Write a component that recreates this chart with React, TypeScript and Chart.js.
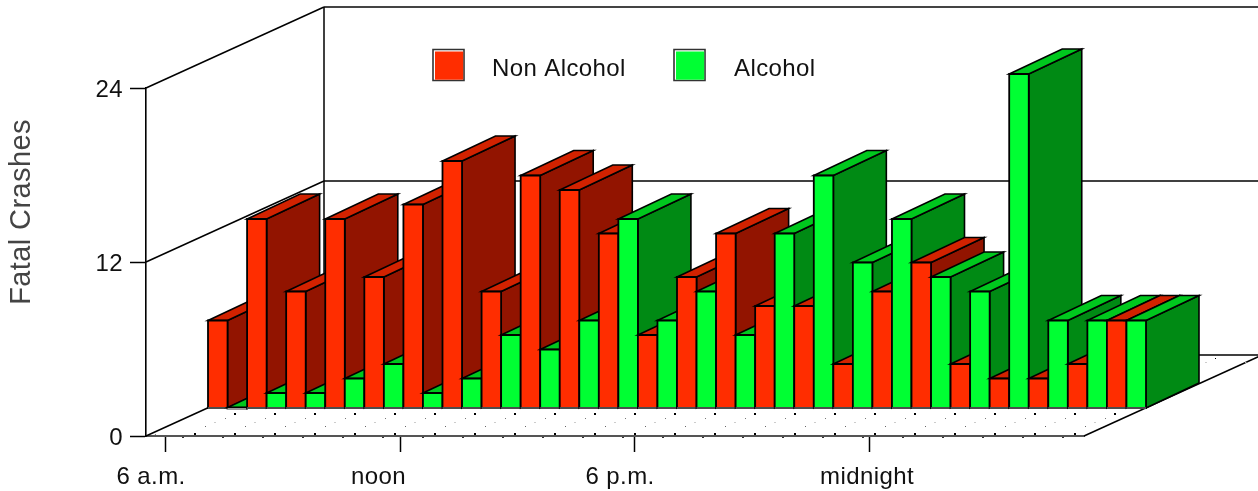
import React, { useEffect, useRef } from "react";
import { Chart, registerables } from "chart.js";

Chart.register(...registerables);

const hours = [
  "6 a.m.", "7 a.m.", "8 a.m.", "9 a.m.", "10 a.m.", "11 a.m.",
  "noon", "1 p.m.", "2 p.m.", "3 p.m.", "4 p.m.", "5 p.m.",
  "6 p.m.", "7 p.m.", "8 p.m.", "9 p.m.", "10 p.m.", "11 p.m.",
  "midnight", "1 a.m.", "2 a.m.", "3 a.m.", "4 a.m.", "5 a.m.",
];
const nonAlcohol = [6, 13, 8, 13, 9, 14, 17, 8, 16, 15, 12, 5, 9, 12, 7, 7, 3, 8, 10, 3, 2, 2, 3, 6];
const alcohol = [0, 1, 1, 2, 3, 1, 2, 5, 4, 6, 13, 6, 8, 5, 12, 16, 10, 13, 9, 8, 23, 6, 6, 6];

const FONT = '"Liberation Sans", Arial, sans-serif';
const W = 1258;
const H = 491;
// projection of the 3D box
const WALL_DX = 178;
const WALL_DY = -81;
const ROW_DX = 62;
const ROW_DY = -28;
const BAR_DX = 53;
const BAR_DY = -25;

const FACES = [
  { front: "#ff2d00", side: "#921400", top: "#d22200" },
  { front: "#00ff33", side: "#008a14", top: "#00c81e" },
];
const LEGEND = [
  { label: "Non Alcohol", boxX: 433, textX: 492, color: FACES[0].front },
  { label: "Alcohol", boxX: 674, textX: 734, color: FACES[1].front },
];

function poly(ctx: CanvasRenderingContext2D, pts: number[][], fill: string | null, stroke: string | null, lw = 1.5) {
  ctx.beginPath();
  pts.forEach((p, i) => (i ? ctx.lineTo(p[0], p[1]) : ctx.moveTo(p[0], p[1])));
  ctx.closePath();
  if (fill) {
    ctx.fillStyle = fill;
    ctx.fill();
  }
  if (stroke) {
    ctx.strokeStyle = stroke;
    ctx.lineWidth = lw;
    ctx.lineJoin = "miter";
    ctx.stroke();
  }
}

function line(ctx: CanvasRenderingContext2D, x1: number, y1: number, x2: number, y2: number, color = "#000", lw = 1.5) {
  ctx.beginPath();
  ctx.moveTo(x1, y1);
  ctx.lineTo(x2, y2);
  ctx.strokeStyle = color;
  ctx.lineWidth = lw;
  ctx.stroke();
}

const box3d = {
  id: "box3d",
  beforeDraw(chart: any) {
    const ctx = chart.ctx;
    ctx.letterSpacing = "0.4px";
    ctx.save();
    ctx.fillStyle = "#fff";
    ctx.fillRect(0, 0, W, H);
    ctx.restore();
  },
  beforeDatasetsDraw(chart: any) {
    const ctx: CanvasRenderingContext2D = chart.ctx;
    const { x: xs, y: ys } = chart.scales;
    const left = xs.left;
    const right = xs.right;
    const base = ys.getPixelForValue(0);

    ctx.save();
    // walls
    for (const v of ys.ticks.map((t: any) => t.value)) {
      const py = ys.getPixelForValue(v);
      line(ctx, left, py, left + WALL_DX, py + WALL_DY);
      if (v > 0) line(ctx, left + WALL_DX, py + WALL_DY, W, py + WALL_DY, v === 24 ? "#444" : "#000", v === 24 ? 2 : 1.5);
    }
    const wallX = left + WALL_DX;
    line(ctx, wallX, ys.getPixelForValue(24) + WALL_DY, wallX, base + WALL_DY);
    line(ctx, wallX, base + WALL_DY, W, base + WALL_DY);
    line(ctx, right, base, right + WALL_DX, base + WALL_DY);

    // stippled floor
    ctx.save();
    ctx.beginPath();
    ctx.moveTo(left, base + 3);
    ctx.lineTo(left + WALL_DX, base + WALL_DY);
    ctx.lineTo(right + WALL_DX, base + WALL_DY);
    ctx.lineTo(right, base + 3);
    ctx.closePath();
    ctx.clip();
    const rows = [
      { y: 358, x: 15, c: "#000", w: 1, h: 1 },
      { y: 362, x: 5, c: "#ccc", w: 2, h: 1 },
      { y: 413, x: 34, c: "#000", w: 2, h: 2 },
      { y: 418, x: 25, c: "#777", w: 1, h: 1 },
      { y: 422, x: 14, c: "#ccc", w: 2, h: 1 },
      { y: 426, x: 5, c: "#666", w: 1, h: 1 },
      { y: 433, x: 34, c: "#000", w: 2, h: 2 },
      { y: 437, x: 22, c: "#333", w: 2, h: 1 },
    ];
    for (const r of rows) {
      ctx.fillStyle = r.c;
      for (let x = r.x; x < W; x += 40) ctx.fillRect(x, r.y, r.w, r.h);
    }
    ctx.restore();

    // bars, painted from left to right so nearer ones hide the sides behind
    const metas = [chart.getDatasetMeta(0), chart.getDatasetMeta(1)];
    for (let i = 0; i < hours.length; i++) {
      for (let d = 0; d < 2; d++) {
        const el = metas[d].data[i];
        const f = FACES[d];
        const x0 = el.x - el.width / 2 + ROW_DX;
        const x1 = el.x + el.width / 2 + ROW_DX;
        const yTop = el.y + ROW_DY - 0.5;
        const yBase = el.base + ROW_DY + 0.5;
        poly(ctx, [[x1, yTop], [x1 + BAR_DX, yTop + BAR_DY], [x1 + BAR_DX, yBase + BAR_DY], [x1, yBase]], f.side, "#000", 1.6);
        poly(ctx, [[x0, yTop], [x0 + BAR_DX, yTop + BAR_DY], [x1 + BAR_DX, yTop + BAR_DY], [x1, yTop]], f.top, "#000", 1.6);
        poly(ctx, [[x0, yTop], [x1, yTop], [x1, yBase], [x0, yBase]], f.front, "#000", 1.8);
        line(ctx, x0, yBase, x1, yBase, "#999", 1);
      }
    }

    // legend
    ctx.textBaseline = "middle";
    ctx.textAlign = "left";
    ctx.font = `24px ${FONT}`;
    for (const item of LEGEND) {
      poly(ctx, [[item.boxX, 49.5], [item.boxX + 31, 49.5], [item.boxX + 31, 80.5], [item.boxX, 80.5]], "#fff", "#333", 1.6);
      ctx.fillStyle = item.color;
      ctx.fillRect(item.boxX + 2, 51.5, 28.2, 28.2);
      ctx.fillStyle = "#111";
      ctx.fillText(item.label, item.textX, 69);
    }

    // axis title
    ctx.save();
    ctx.translate(22, 212);
    ctx.rotate(-Math.PI / 2);
    ctx.textAlign = "center";
    ctx.textBaseline = "middle";
    ctx.font = `29px ${FONT}`;
    ctx.fillStyle = "#444";
    ctx.fillText("Fatal Crashes", 0, 0);
    ctx.restore();

    ctx.restore();
    return false;
  },
};

export default function App() {
  const ref = useRef<HTMLCanvasElement>(null);
  useEffect(() => {
    const chart = new Chart(ref.current!, {
      type: "bar",
      data: {
        labels: hours,
        datasets: [
          { label: "Non Alcohol", data: nonAlcohol, backgroundColor: FACES[0].front },
          { label: "Alcohol", data: alcohol, backgroundColor: FACES[1].front },
        ],
      },
      plugins: [box3d],
      options: {
        animation: false,
        responsive: false,
        layout: { padding: { top: 88, right: 174, left: 0, bottom: 0 } },
        datasets: { bar: { barPercentage: 1, categoryPercentage: 1 } },
        plugins: { legend: { display: false }, title: { display: false }, tooltip: { enabled: false } },
        scales: {
          x: {
            afterFit: (s: any) => { s.height = H - 436; },
            grid: {
              offset: false,
              drawOnChartArea: false,
              tickLength: 16,
              tickWidth: 1.5,
              tickColor: (c: any) => (c.index % 6 === 0 ? "#000" : "rgba(0,0,0,0)"),
            },
            border: { color: "#555", width: 2 },
            ticks: {
              autoSkip: false,
              maxRotation: 0,
              minRotation: 0,
              align: "start",
              labelOffset: -49,
              padding: 11,
              color: "#111",
              font: { family: FONT, size: 24 },
              callback(this: any, value: any, index: number) {
                return index % 6 === 0 ? this.getLabelForValue(value) : "";
              },
            },
          },
          y: {
            min: 0,
            max: 24,
            afterFit: (s: any) => { s.width = 146; },
            grid: { drawOnChartArea: false, tickLength: 16, tickColor: "#000", tickWidth: 1.5 },
            border: { color: "#000", width: 1.6 },
            ticks: { stepSize: 12, padding: 7, labelOffset: 2.5, color: "#111", font: { family: FONT, size: 24 } },
          },
        },
      },
    } as any);
    return () => chart.destroy();
  }, []);
  return (
    <div style={{ position: "absolute", left: 0, top: 0, width: W, height: H }}>
      <canvas ref={ref} width={W} height={H} style={{ display: "block" }} />
    </div>
  );
}
